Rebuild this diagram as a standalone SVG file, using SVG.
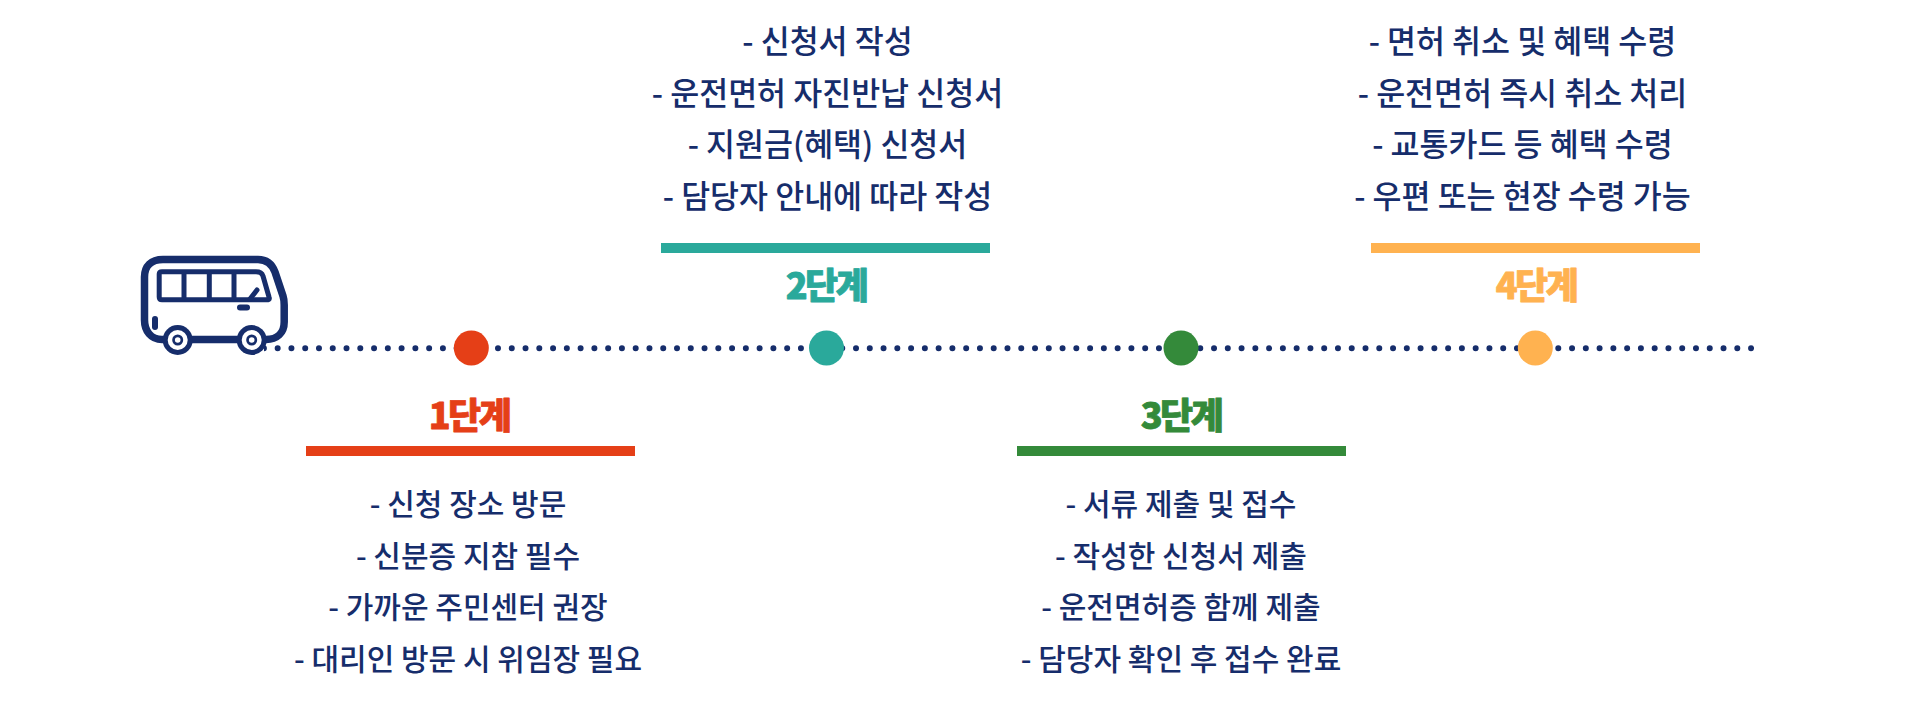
<svg xmlns="http://www.w3.org/2000/svg" width="1920" height="713" viewBox="0 0 1920 713">
<style>
.t{font-family:"Noto Sans CJK KR","Noto Sans",sans-serif;font-size:30px;font-weight:500;fill:#162d6b;text-anchor:middle}
.u{font-size:31.500px}
.h{font-family:"Noto Sans CJK KR","Noto Sans",sans-serif;font-size:36px;font-weight:900;text-anchor:middle;letter-spacing:-2.500px;stroke-width:.8px;stroke-linejoin:round}
.b{fill:none;stroke:#162d6b;stroke-linecap:round;stroke-linejoin:round}
</style>
<defs><clipPath id="c"><rect x="264" y="340" width="1490" height="16"/></clipPath></defs>
<rect width="1920" height="713" fill="#fff"/>
<g id="connectors">
<line x1="263.900" y1="348.300" x2="1765" y2="348.300" stroke="#162d6b" stroke-width="6" stroke-linecap="round" stroke-dasharray="0 13.770" clip-path="url(#c)"/>
</g>
<g id="bus">
<path class="b" stroke-width="7.500" d="M162 339.500C151 339.500 144.500 331 144.500 320V277C144.500 266 151 259.500 163 259.500H258C267 259.500 272 264 275 272L283 296C284 299 284.200 302 284.200 305V322C284.200 333 277 339.500 266 339.500Z"/>
<path class="b" stroke-width="5" d="M162 271.800H256C260 271.800 262 273 263 276L269 297C270 299.500 268.500 299.800 266 299.800H162C160 299.800 159.200 299 159.200 297V274C159.200 272.500 160 271.800 162 271.800ZM184 271.800V299.800M209.300 271.800V299.800M234 271.800V299.800"/>
<path class="b" stroke-width="5" d="M250 299L257 290"/>
<path class="b" stroke-width="6" d="M240 307.500H247"/>
<path class="b" stroke-width="6" d="M155 319V327"/>
<g fill="#162d6b"><circle cx="177.700" cy="340" r="15"/><circle cx="251.700" cy="340" r="15"/></g>
<g fill="#fff"><circle cx="177.700" cy="340" r="10"/><circle cx="251.700" cy="340" r="10"/></g>
<g fill="#162d6b"><circle cx="177.700" cy="340" r="5.500"/><circle cx="251.700" cy="340" r="5.500"/></g>
<g fill="#fff"><circle cx="177.700" cy="340" r="2.800"/><circle cx="251.700" cy="340" r="2.800"/></g>
</g>
<g id="step1">
<circle cx="471.300" cy="348" r="17.500" fill="#e53f17"/>
<text class="h" x="469" y="428.500" fill="#e53f17" stroke="#e53f17">1단계</text>
<rect x="306" y="446" width="329" height="10" fill="#e53f17"/>
<text class="t" x="468" y="515">- 신청 장소 방문</text>
<text class="t" x="468" y="566.500">- 신분증 지참 필수</text>
<text class="t" x="468" y="618">- 가까운 주민센터 권장</text>
<text class="t" x="468" y="669.500">- 대리인 방문 시 위임장 필요</text>
</g>
<g id="step2">
<circle cx="826.500" cy="348" r="17.500" fill="#2aa99b"/>
<text class="h" x="826" y="298.500" fill="#2aa99b" stroke="#2aa99b">2단계</text>
<rect x="661" y="243" width="329" height="10" fill="#2aa99b"/>
<text class="t u" x="827.500" y="53">- 신청서 작성</text>
<text class="t u" x="827.500" y="104.500">- 운전면허 자진반납 신청서</text>
<text class="t u" x="827.500" y="156">- 지원금(혜택) 신청서</text>
<text class="t u" x="827.500" y="207.500">- 담당자 안내에 따라 작성</text>
</g>
<g id="step3">
<circle cx="1181" cy="348" r="17.500" fill="#348a3a"/>
<text class="h" x="1181" y="428.500" fill="#348a3a" stroke="#348a3a">3단계</text>
<rect x="1017" y="446" width="329" height="10" fill="#348a3a"/>
<text class="t" x="1181" y="515">- 서류 제출 및 접수</text>
<text class="t" x="1181" y="566.500">- 작성한 신청서 제출</text>
<text class="t" x="1181" y="618">- 운전면허증 함께 제출</text>
<text class="t" x="1181" y="669.500">- 담당자 확인 후 접수 완료</text>
</g>
<g id="step4">
<circle cx="1535.300" cy="348" r="17.500" fill="#ffb250"/>
<text class="h" x="1536" y="298.500" fill="#ffb250" stroke="#ffb250">4단계</text>
<rect x="1371" y="243" width="329" height="10" fill="#ffb250"/>
<text class="t u" x="1522.500" y="53">- 면허 취소 및 혜택 수령</text>
<text class="t u" x="1522.500" y="104.500">- 운전면허 즉시 취소 처리</text>
<text class="t u" x="1522.500" y="156">- 교통카드 등 혜택 수령</text>
<text class="t u" x="1522.500" y="207.500">- 우편 또는 현장 수령 가능</text>
</g>
</svg>
